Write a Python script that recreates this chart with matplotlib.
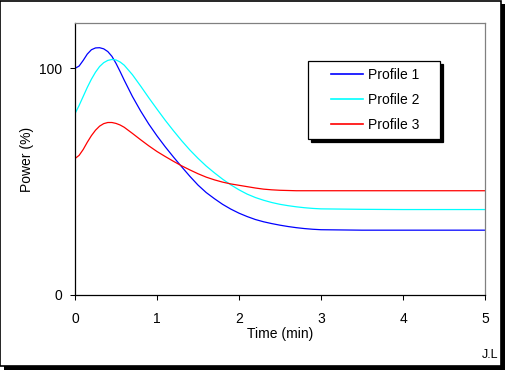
import matplotlib
matplotlib.use('Agg')
from matplotlib import pyplot as plt
from matplotlib.patches import Rectangle
from matplotlib.legend_handler import HandlerLine2D

plt.rcParams['font.family'] = ['Liberation Sans', 'DejaVu Sans']
plt.rcParams['font.size'] = 10

# values
time_min = [0, 0.05, 0.1, 0.15, 0.2, 0.25, 0.3, 0.35, 0.4, 0.45, 0.5, 0.55, 0.6,
            0.7, 0.8, 0.9, 1.0, 1.1, 1.2, 1.3, 1.4, 1.5, 1.6, 1.7, 1.8, 1.9, 2.0,
            2.1, 2.2, 2.3, 2.4, 2.5, 2.6, 2.7, 2.8, 2.9, 3.0, 3.5, 4.0, 4.5, 5.0]
profile1 = [100, 101.0, 103.5, 106.3, 108.2, 109.0, 109.1, 108.6, 107.4, 105.3, 102.2, 98.6, 94.8,
            87.6, 81.2, 75.4, 70.2, 65.4, 60.9, 56.6, 52.4, 48.5, 45.2, 42.5, 40.0, 37.9, 36.1,
            34.6, 33.3, 32.3, 31.5, 30.8, 30.2, 29.7, 29.3, 29.0, 28.8, 28.6, 28.6, 28.6, 28.6]
profile2 = [80.0, 83.6, 87.6, 91.6, 95.2, 98.3, 100.8, 102.5, 103.5, 103.9, 103.7, 102.8, 101.4,
            97.2, 92.2, 87.0, 82.0, 77.1, 72.5, 68.1, 64.0, 60.3, 56.9, 53.9, 51.1, 48.6, 46.4,
            44.5, 43.0, 41.8, 40.8, 40.0, 39.4, 38.9, 38.5, 38.2, 38.0, 37.8, 37.7, 37.7, 37.7]
profile3 = [60.2, 61.6, 64.2, 67.4, 70.3, 72.7, 74.5, 75.6, 76.1, 76.1, 75.7, 75.0, 74.0,
            71.3, 68.5, 65.8, 63.3, 61.1, 59.0, 57.0, 55.2, 53.5, 52.0, 50.8, 49.8, 49.0, 48.4,
            47.8, 47.2, 46.7, 46.4, 46.2, 46.1, 46.0, 46.0, 46.0, 46.0, 46.0, 46.0, 46.0, 46.0]
labels = ['Profile 1', 'Profile 2', 'Profile 3']
colors = ['#0000FF', '#00FFFF', '#FF0000']
xticks = [0, 1, 2, 3, 4, 5]
yticks = [0, 100]

W, H = 506, 370
fig = plt.figure(figsize=(W / 100, H / 100), dpi=100)
fig.patch.set_facecolor('white')

# outer frame with hard black shadow (kept under the axes)
fig.patches.append(Rectangle((4 / W, 0), 1 - 4 / W, 1 - 4 / H, transform=fig.transFigure,
                             facecolor='black', edgecolor='none', zorder=-2))
fig.patches.append(Rectangle((0.5 / W, 4 / H), 501 / W, 365.5 / H, transform=fig.transFigure,
                             facecolor='white', edgecolor='black', linewidth=1.2, zorder=-1))

ax = fig.add_axes([75 / W, 1 - 295 / H, 410 / W, 272 / H])
ax.set_zorder(2)
ax.set_facecolor('white')

for y, lab, col in zip([profile1, profile2, profile3], labels, colors):
    ax.plot(time_min, y, color=col, linewidth=0.9, label=lab)

ax.set_xlim(0, 5)
ax.set_ylim(0, 120)
ax.set_xticks(xticks)
ax.set_yticks(yticks)
ax.tick_params(axis='x', direction='out', length=3.6, width=0.75, pad=8.5)
ax.tick_params(axis='y', direction='out', length=3.6, width=0.75, pad=5.5)
for s in ['left', 'bottom']:
    ax.spines[s].set_color('black')
    ax.spines[s].set_linewidth(0.9)
for s in ['top', 'right']:
    ax.spines[s].set_color('#808080')
    ax.spines[s].set_linewidth(0.9)

ax.set_xlabel('Time (min)', labelpad=1)
ax.set_ylabel('Power (%)', labelpad=4)

# legend box spans x 308-440, y 61-138 px
x0 = (308 - 75) / 410
y1 = (295 - 61) / 272
w = (440 - 308) / 410
leg = ax.legend(loc='upper left', bbox_to_anchor=(x0, y1 - 0.3, w, 0.3), mode='expand',
                borderaxespad=0, borderpad=0.5, labelspacing=0.8,
                handlelength=3.45, handletextpad=0.36, fancybox=False, framealpha=1,
                edgecolor='black', shadow={'ox': 2.2, 'oy': -2.2, 'facecolor': 'black',
                                           'edgecolor': 'black', 'alpha': 1},
                handler_map={plt.Line2D: HandlerLine2D(xpad=1.15)})
leg.get_frame().set_linewidth(0.9)
for line in leg.get_lines():
    line.set_linewidth(1.2)

fig.text(498 / W, 1 - 358 / H, 'J.L', ha='right', va='baseline', fontsize=9)

fig.savefig('out.png', dpi=100)
